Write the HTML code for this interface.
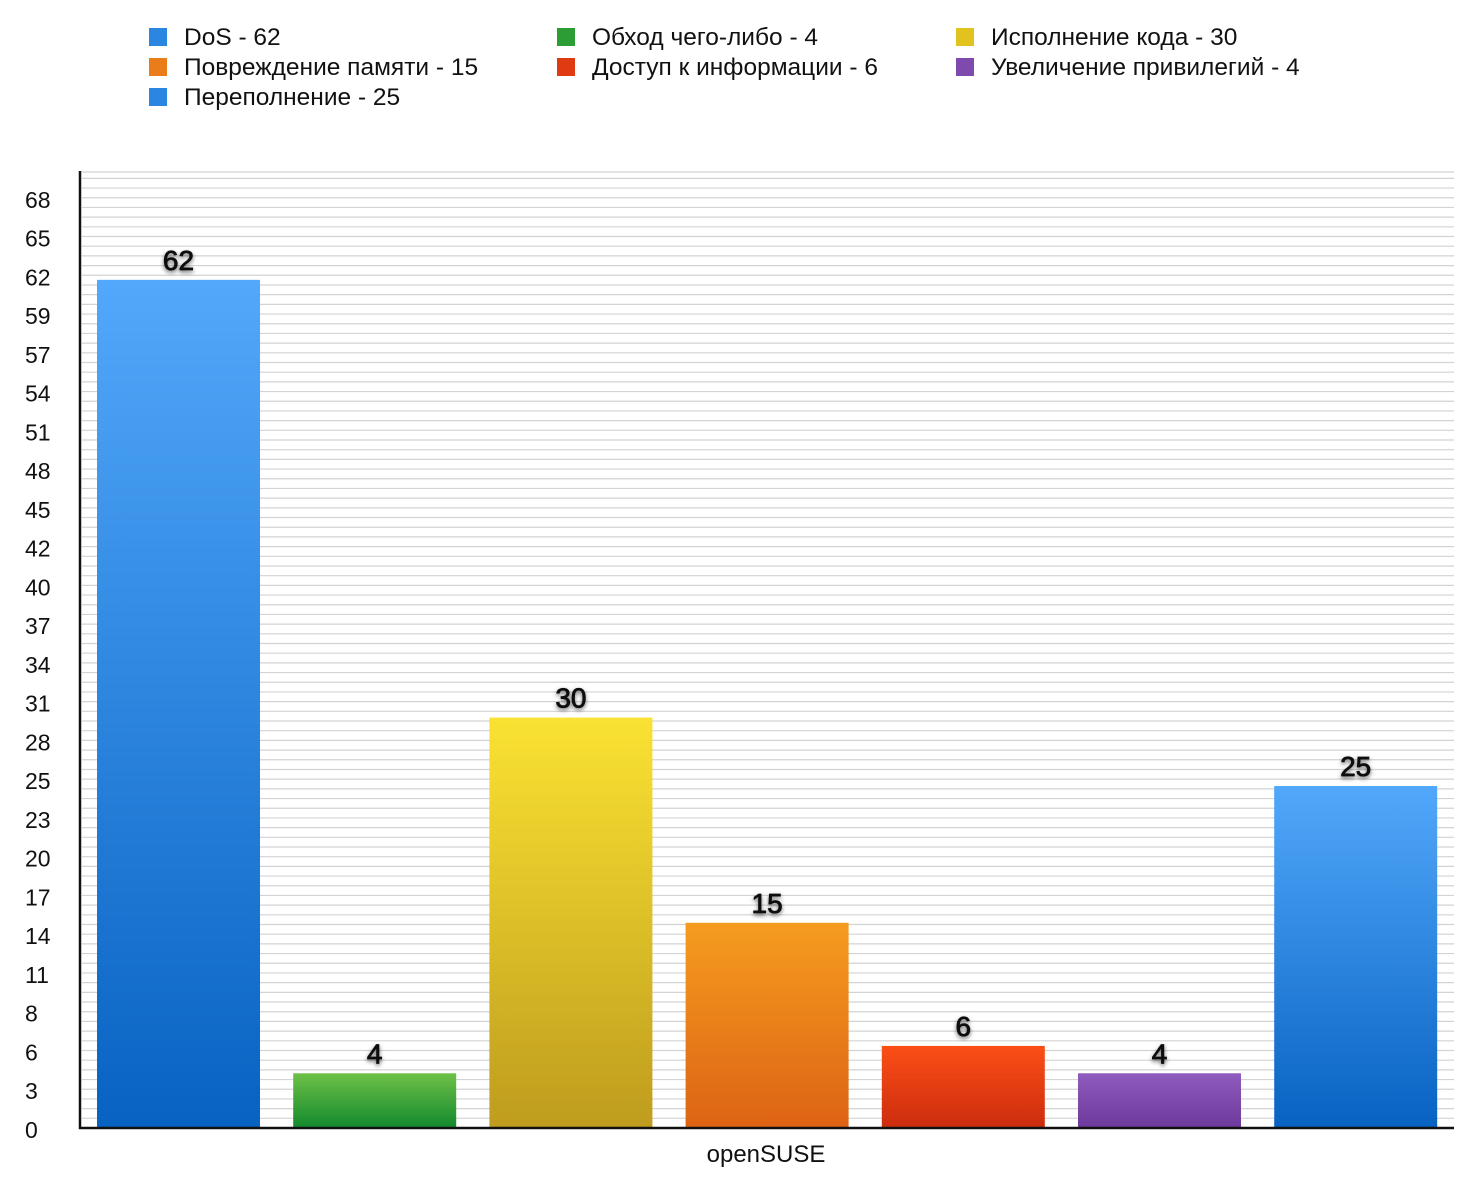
<!DOCTYPE html>
<html><head><meta charset="utf-8"><style>
body{margin:0;background:#fff;font-family:"Liberation Sans",sans-serif}
</style></head><body>
<svg id="c" width="1464" height="1174" xmlns="http://www.w3.org/2000/svg" style="font-family:'Liberation Sans',sans-serif">
<defs>
<linearGradient id="gBlue" x1="0" y1="0" x2="0" y2="1"><stop offset="0" stop-color="#52a8fa"/><stop offset="1" stop-color="#0862c2"/></linearGradient>
<linearGradient id="gGreen" x1="0" y1="0" x2="0" y2="1"><stop offset="0" stop-color="#6ec147"/><stop offset="1" stop-color="#12892e"/></linearGradient>
<linearGradient id="gYellow" x1="0" y1="0" x2="0" y2="1"><stop offset="0" stop-color="#fae232"/><stop offset="1" stop-color="#bf9c1e"/></linearGradient>
<linearGradient id="gOrange" x1="0" y1="0" x2="0" y2="1"><stop offset="0" stop-color="#f59c1f"/><stop offset="1" stop-color="#dd6314"/></linearGradient>
<linearGradient id="gRed" x1="0" y1="0" x2="0" y2="1"><stop offset="0" stop-color="#fb4f16"/><stop offset="1" stop-color="#cc2c0e"/></linearGradient>
<linearGradient id="gPurple" x1="0" y1="0" x2="0" y2="1"><stop offset="0" stop-color="#8f5bbd"/><stop offset="1" stop-color="#6d3a9c"/></linearGradient>
<filter id="sh" x="-50%" y="-50%" width="200%" height="200%"><feDropShadow dx="0" dy="2" stdDeviation="2" flood-color="#000" flood-opacity="0.6"/></filter>
</defs>
<g id="grid"></g><g id="bars"></g><g id="yt"></g><g id="leg"></g>
<line x1="80" y1="171" x2="80" y2="1129" stroke="#111" stroke-width="2.5"/>
<line x1="79" y1="1128" x2="1454" y2="1128" stroke="#111" stroke-width="2.5"/>
<text x="766" y="1162" font-size="24" text-anchor="middle" fill="#111">openSUSE</text>
</svg>
<script>
const categories=["DoS","Обход чего-либо","Исполнение кода","Повреждение памяти","Доступ к информации","Увеличение привилегий","Переполнение"];
const values=[62,4,30,15,6,4,25];
const fills=["gBlue","gGreen","gYellow","gOrange","gRed","gPurple","gBlue"];
const tickLabels=["0","3","6","8","11","14","17","20","23","25","28","31","34","37","40","42","45","48","51","54","57","59","62","65","68"];
const legendOrder=[0,1,2,3,4,5,6];
const legendSwatch=["#2a86e0","#2c9d35","#e2c21f","#ea7c1a","#e03a12","#7f4aae","#2a86e0"];
const NS="http://www.w3.org/2000/svg";
const y0=1128,yMax=68,ppu=13.68;
function y(v){return y0-v*ppu;}
function x(i){return 97+i*196.2;}
const bw=163;
function mk(t,a,p){const e=document.createElementNS(NS,t);for(const k in a)e.setAttribute(k,a[k]);document.getElementById(p).appendChild(e);return e;}
const step=(y(0)-y(yMax))/24/4;
for(let k=1;y0-k*step>=172;k++){const gy=y0-k*step;
const l=mk("line",{x1:82,x2:1454,y1:gy,y2:gy,stroke:"#d3d3d3","stroke-width":1.2},"grid");

}
mk("line",{x1:82,x2:1454,y1:172,y2:172,stroke:"#d3d3d3","stroke-width":1.2},"grid");
tickLabels.forEach((t,i)=>{const ty=y(yMax*i/24);
const e=mk("text",{x:25,y:ty+10,"font-size":23,fill:"#111"},"yt");e.textContent=t;

});
values.forEach((v,i)=>{
const r=mk("rect",{x:x(i),y:y(v),width:bw,height:y0-y(v),fill:"url(#"+fills[i]+")"},"bars");


const t=mk("text",{x:x(i)+bw/2,y:y(v)-10,"font-size":28,"text-anchor":"middle",fill:"#111",stroke:"#111","stroke-width":0.8,filter:"url(#sh)"},"bars");t.textContent=v;

});
const lx=[149,557,956],ltx=[184,592,991],ly=[37,67,97];
legendOrder.forEach((ci,k)=>{const col=k%3,row=Math.floor(k/3);
const g=document.createElementNS(NS,"g");document.getElementById("leg").appendChild(g);


const r=document.createElementNS(NS,"rect");
[["x",lx[col]],["y",ly[row]-9],["width",18],["height",18],["fill",legendSwatch[ci]]].forEach(a=>r.setAttribute(a[0],a[1]));
g.appendChild(r);
const t=document.createElementNS(NS,"text");
[["x",ltx[col]],["y",ly[row]+8],["font-size",24.5],["fill","#111"]].forEach(a=>t.setAttribute(a[0],a[1]));
t.textContent=categories[ci]+" - "+values[ci];g.appendChild(t);});
</script>
</body></html>
